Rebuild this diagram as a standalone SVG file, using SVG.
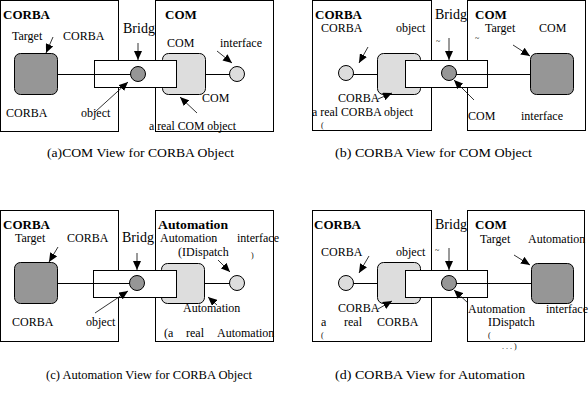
<svg xmlns="http://www.w3.org/2000/svg" width="588" height="408" viewBox="0 0 588 408">
<defs>
<style>
text{font-size:12px;fill:#000}
.b{font-weight:bold;font-size:13px}
.br{font-size:14px}
.cap{font-size:13.5px}
.sm{font-size:8px}
.box{fill:#fff;stroke:#000;stroke-width:1}
.dark{fill:#969696;stroke:#000;stroke-width:1}
.light{fill:#dddddd;stroke:#000;stroke-width:1}
.ln{stroke:#000;stroke-width:1;fill:none}
.ar{stroke:#000;stroke-width:0.8;fill:none;marker-end:url(#ah)}
</style>
<marker id="ah" markerUnits="userSpaceOnUse" markerWidth="10" markerHeight="8" refX="9" refY="4" orient="auto">
<path d="M0,0 L9,4 L0,8 z" fill="#000"/>
</marker>
</defs>
<g font-family="'Liberation Serif', 'DejaVu Serif', serif">

<!-- Panel (a) -->
<g id="a-corba-box"><rect class="box" x="0.5" y="0.5" width="118" height="131"/></g>
<g id="a-com-box"><rect class="box" x="155.5" y="0.5" width="118" height="131"/></g>
<g id="a-com-object"><rect class="light" x="162.5" y="53.5" width="43" height="41" rx="6"/></g>
<g id="a-bridge"><rect class="box" x="94.5" y="60.5" width="82" height="27"/></g>
<g id="a-target"><rect class="dark" x="14.5" y="53.5" width="43" height="41" rx="6"/></g>

<!-- Panel (b) -->
<g id="b-corba-box"><rect class="box" x="312.5" y="0.5" width="119" height="130"/></g>
<g id="b-com-box"><rect class="box" x="467.5" y="0.5" width="118" height="130"/></g>
<g id="b-corba-object"><rect class="light" x="377.5" y="53.5" width="43" height="41" rx="6"/></g>
<g id="b-bridge"><rect class="box" x="405.5" y="60.5" width="82" height="27"/></g>
<g id="b-target"><rect class="dark" x="530.5" y="53.5" width="43" height="41" rx="6"/></g>

<!-- Panel (c) -->
<g id="c-corba-box"><rect class="box" x="0.5" y="210.5" width="118" height="131"/></g>
<g id="c-auto-box"><rect class="box" x="155.5" y="210.5" width="118" height="131"/></g>
<g id="c-auto-object"><rect class="light" x="161.5" y="263.5" width="43" height="40" rx="6"/></g>
<g id="c-bridge"><rect class="box" x="93.5" y="270.5" width="83" height="27"/></g>
<g id="c-target"><rect class="dark" x="14.5" y="262.5" width="43" height="41" rx="6"/></g>

<!-- Panel (d) -->
<g id="d-corba-box"><rect class="box" x="312.5" y="210.5" width="119" height="131"/></g>
<g id="d-com-box"><rect class="box" x="467.5" y="210.5" width="117" height="131"/></g>
<g id="d-corba-object"><rect class="light" x="377.5" y="262.5" width="43" height="41" rx="6"/></g>
<g id="d-bridge"><rect class="box" x="405.5" y="270.5" width="82" height="27"/></g>
<g id="d-target"><rect class="dark" x="531.5" y="263.5" width="42" height="40" rx="6"/></g>

<g id="connectors">
<!-- a -->
<line class="ln" x1="57" y1="74.5" x2="131" y2="74.5"/>
<line class="ln" x1="205" y1="74.5" x2="230" y2="74.5"/>
<line class="ar" x1="53" y1="37" x2="46" y2="53"/>
<line class="ar" x1="138" y1="43" x2="138" y2="60"/>
<line class="ar" x1="95" y1="112" x2="128" y2="82"/>
<line class="ar" x1="217" y1="51" x2="232" y2="63"/>
<line class="ar" x1="197" y1="113" x2="180" y2="97"/>
<!-- b -->
<line class="ln" x1="353" y1="74.5" x2="377" y2="74.5"/>
<line class="ln" x1="456" y1="74.5" x2="530" y2="74.5"/>
<line class="ar" x1="368" y1="47" x2="359" y2="63"/>
<line class="ar" x1="449" y1="38" x2="449" y2="60"/>
<line class="ar" x1="474" y1="100" x2="454" y2="80"/>
<line class="ar" x1="513" y1="45" x2="530" y2="56"/>
<line class="ar" x1="378" y1="99" x2="392" y2="93"/>
<!-- c -->
<line class="ln" x1="57" y1="283.5" x2="130" y2="283.5"/>
<line class="ln" x1="204" y1="283.5" x2="230" y2="283.5"/>
<line class="ar" x1="58" y1="247" x2="49" y2="262"/>
<line class="ar" x1="137" y1="253" x2="137" y2="270"/>
<line class="ar" x1="95" y1="313" x2="128" y2="291"/>
<line class="ar" x1="218" y1="260" x2="230" y2="272"/>
<line class="ar" x1="217" y1="305" x2="208" y2="297"/>
<!-- d -->
<line class="ln" x1="353" y1="283.5" x2="377" y2="283.5"/>
<line class="ln" x1="456" y1="283.5" x2="531" y2="283.5"/>
<line class="ar" x1="369" y1="256" x2="359" y2="273"/>
<line class="ar" x1="449" y1="248" x2="449" y2="270"/>
<line class="ar" x1="514" y1="255" x2="530" y2="265"/>
<line class="ar" x1="468" y1="303" x2="454" y2="290"/>
<line class="ar" x1="378" y1="309" x2="392" y2="301"/>
</g>

<g id="a-bridge-iface"><circle class="dark" cx="138" cy="74" r="7.5"/></g>
<g id="a-com-iface"><circle class="light" cx="237" cy="74" r="7.5"/></g>
<g id="b-corba-iface"><circle class="light" cx="346" cy="73" r="7.5"/></g>
<g id="b-bridge-iface"><circle class="dark" cx="449" cy="73" r="7.5"/></g>
<g id="c-bridge-iface"><circle class="dark" cx="137" cy="283" r="7.5"/></g>
<g id="c-auto-iface"><circle class="light" cx="237" cy="283" r="7.5"/></g>
<g id="d-corba-iface"><circle class="light" cx="346" cy="283" r="7.5"/></g>
<g id="d-bridge-iface"><circle class="dark" cx="449" cy="283" r="7.5"/></g>

<g id="labels-a">
<text class="b" x="3" y="19">CORBA</text>
<text class="b" x="165" y="19">COM</text>
<text class="br" x="123" y="33">Bridg</text>
<text x="12" y="40">Target</text>
<text x="63" y="40">CORBA</text>
<text x="6" y="117">CORBA</text>
<text x="81" y="117">object</text>
<text x="167" y="47">COM</text>
<text x="220" y="47">interface</text>
<text x="202" y="102">COM</text>
<text x="149" y="130" textLength="87" lengthAdjust="spacingAndGlyphs">a real COM object</text>
<text class="cap" x="47" y="157" textLength="187" lengthAdjust="spacingAndGlyphs">(a)COM View for CORBA Object</text>
</g>

<g id="labels-b">
<text class="b" x="315" y="19">CORBA</text>
<text class="b" x="475" y="19">COM</text>
<text class="br" x="435" y="19">Bridg</text>
<text x="321" y="32">CORBA</text>
<text x="396" y="32">object</text>
<text x="485" y="32">Target</text>
<text x="539" y="32">COM</text>
<text class="sm" x="436" y="44">~</text>
<text class="sm" x="475" y="41">~</text>
<text x="338" y="102">CORBA</text>
<text x="312" y="116" textLength="101" lengthAdjust="spacingAndGlyphs">a real CORBA object</text>
<text class="sm" x="321" y="128">(</text>
<text x="468" y="120">COM</text>
<text x="521" y="120">interface</text>
<text class="cap" x="335" y="157" textLength="197" lengthAdjust="spacingAndGlyphs">(b) CORBA View for COM Object</text>
</g>

<g id="labels-c">
<text class="b" x="3" y="229">CORBA</text>
<text class="b" x="158" y="229" textLength="70" lengthAdjust="spacingAndGlyphs">Automation</text>
<text x="15" y="242">Target</text>
<text x="67" y="242">CORBA</text>
<text class="br" x="122" y="242">Bridg</text>
<text x="160" y="242">Automation</text>
<text x="237" y="242">interface</text>
<text x="178" y="256">(IDispatch</text>
<text class="sm" x="251" y="258">)</text>
<text x="183" y="312">Automation</text>
<text x="12" y="326">CORBA</text>
<text x="86" y="326">object</text>
<text x="164" y="337">(a</text>
<text x="186" y="337">real</text>
<text x="217" y="337">Automation</text>
<text class="cap" x="46" y="379" textLength="206" lengthAdjust="spacingAndGlyphs">(c) Automation View for CORBA Object</text>
</g>

<g id="labels-d">
<text class="b" x="314" y="229">CORBA</text>
<text class="br" x="435" y="229">Bridg</text>
<text class="b" x="475" y="229">COM</text>
<text x="480" y="243">Target</text>
<text x="528" y="243">Automation</text>
<text x="321" y="256">CORBA</text>
<text x="396" y="256">object</text>
<text class="sm" x="435" y="253">~</text>
<text x="338" y="312">CORBA</text>
<text x="468" y="313">Automation</text>
<text x="546" y="313">interface</text>
<text x="321" y="326">a</text>
<text x="344" y="326">real</text>
<text x="377" y="326">CORBA</text>
<text x="488" y="326">IDispatch</text>
<text class="sm" x="321" y="338">(</text>
<text class="sm" x="488" y="338">(</text>
<text class="sm" x="502" y="349">. . . )</text>
<text class="cap" x="335" y="379" textLength="190" lengthAdjust="spacingAndGlyphs">(d) CORBA View for Automation</text>
</g>
</g>
</svg>
